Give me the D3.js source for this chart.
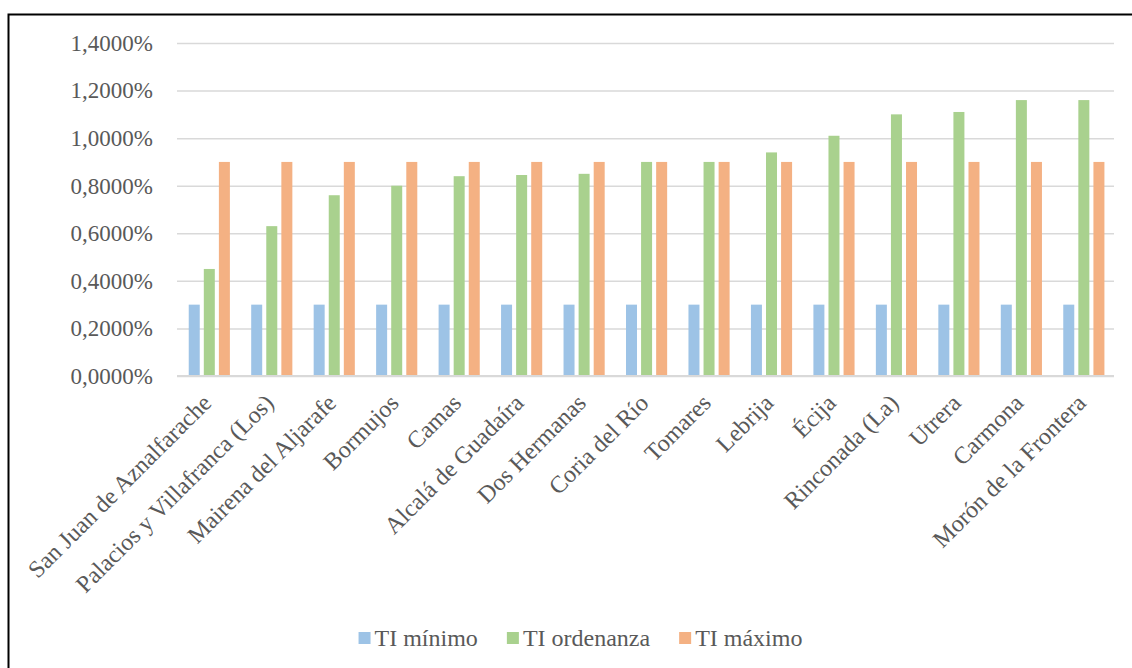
<!DOCTYPE html>
<html>
<head>
<meta charset="utf-8">
<script src="https://cdn.jsdelivr.net/npm/d3@7"></script>
<style>
  html, body { margin: 0; padding: 0; background: #fff; }
  svg { display: block; }
  text { font-family: "Liberation Serif", "Times New Roman", serif; fill: #595959; }
</style>
</head>
<body>
<svg id="chart" width="1132" height="668"></svg>
<script>
// Municipios and tax rates (in %)
const categories = [
  "San Juan de Aznalfarache", "Palacios y Villafranca (Los)", "Mairena del Aljarafe",
  "Bormujos", "Camas", "Alcalá de Guadaíra", "Dos Hermanas", "Coria del Río",
  "Tomares", "Lebrija", "Écija", "Rinconada (La)", "Utrera", "Carmona", "Morón de la Frontera"
];
const tiMinimo    = [0.30, 0.30, 0.30, 0.30, 0.30, 0.30, 0.30, 0.30, 0.30, 0.30, 0.30, 0.30, 0.30, 0.30, 0.30];
const tiOrdenanza = [0.45, 0.63, 0.76, 0.80, 0.84, 0.845, 0.85, 0.90, 0.90, 0.94, 1.01, 1.10, 1.11, 1.16, 1.16];
const tiMaximo    = [0.90, 0.90, 0.90, 0.90, 0.90, 0.90, 0.90, 0.90, 0.90, 0.90, 0.90, 0.90, 0.90, 0.90, 0.90];
const seriesNames = ["TI mínimo", "TI ordenanza", "TI máximo"];
const seriesColors = ["#9DC3E6", "#A9D18E", "#F4B183"];
const yTicks = [0, 0.2, 0.4, 0.6, 0.8, 1.0, 1.2, 1.4];

const seriesValues = [tiMinimo, tiOrdenanza, tiMaximo];
const svg = d3.select("#chart");
const serif = '"Liberation Serif", "Times New Roman", serif';

// outer frame
svg.append("rect")
  .attr("x", 8.5).attr("y", 14.5)
  .attr("width", 1140).attr("height", 670)
  .attr("fill", "none").attr("stroke", "#000").attr("stroke-width", 2);

const plot = { left: 177, right: 1114, top: 43, bottom: 376 };

const x = d3.scaleBand().domain(categories).range([plot.left, plot.right]).paddingInner(0).paddingOuter(0);
const y = d3.scaleLinear().domain([0, 1.4]).range([plot.bottom, plot.top]);

const barW = 11, barStep = 14;
const xSub = d3.scaleBand().domain(seriesNames).range([0, barStep * 3]).paddingInner((barStep - barW) / barStep).paddingOuter(0);

const fmt = d => d.toFixed(4).replace(".", ",") + "%";

// gridlines + y labels
const yAxis = d3.axisLeft(y).tickValues(yTicks).tickFormat(fmt)
  .tickSize(-(plot.right - plot.left)).tickPadding(24);
const gy = svg.append("g").attr("transform", `translate(${plot.left},0)`).call(yAxis);
gy.select(".domain").remove();
gy.selectAll(".tick line").attr("stroke", "#D9D9D9").attr("stroke-width", 1.5);
gy.selectAll(".tick text")
  .attr("font-size", 23).attr("fill", "#595959")
  .style("font-family", serif);

// bars
const groups = svg.append("g").selectAll("g")
  .data(categories).join("g")
  .attr("transform", d => `translate(${x(d) + (x.bandwidth() - (barStep * 2 + barW)) / 2},0)`);

groups.selectAll("rect")
  .data((d, i) => seriesNames.map((s, k) => ({ s, k, v: seriesValues[k][i] })))
  .join("rect")
  .attr("x", d => xSub(d.s))
  .attr("width", barW)
  .attr("y", d => y(d.v))
  .attr("height", d => y(0) - y(d.v))
  .attr("fill", d => seriesColors[d.k]);

// baseline
svg.append("line")
  .attr("x1", plot.left).attr("x2", plot.right)
  .attr("y1", y(0)).attr("y2", y(0))
  .attr("stroke", "#D9D9D9").attr("stroke-width", 2);

// category labels (rotated)
const xAxis = d3.axisBottom(x).tickSize(0).tickPadding(0);
const gx = svg.append("g").attr("transform", `translate(0,${plot.bottom})`).call(xAxis);
gx.select(".domain").remove();
gx.selectAll(".tick text")
  .attr("font-size", 24).attr("fill", "#595959")
  .style("font-family", serif)
  .attr("text-anchor", "end")
  .attr("dy", "0.32em")
  .attr("transform", "translate(-1,23) rotate(-45)");

// legend
const legend = svg.append("g");
const items = legend.selectAll("g").data(seriesNames).join("g");
items.append("rect").attr("width", 12).attr("height", 12).attr("y", -6)
  .attr("fill", (d, i) => seriesColors[i]);
items.append("text").attr("x", 16).attr("dy", "0.33em")
  .attr("font-size", 24).style("font-family", serif).text(d => d);
let cx = 0;
const gap = 29;
items.each(function () {
  const w = 16 + this.querySelector("text").getComputedTextLength();
  d3.select(this).attr("transform", `translate(${cx},0)`);
  cx += w + gap;
});
const totalW = cx - gap;
legend.attr("transform", `translate(${580.5 - totalW / 2},638)`);
</script>
</body>
</html>
